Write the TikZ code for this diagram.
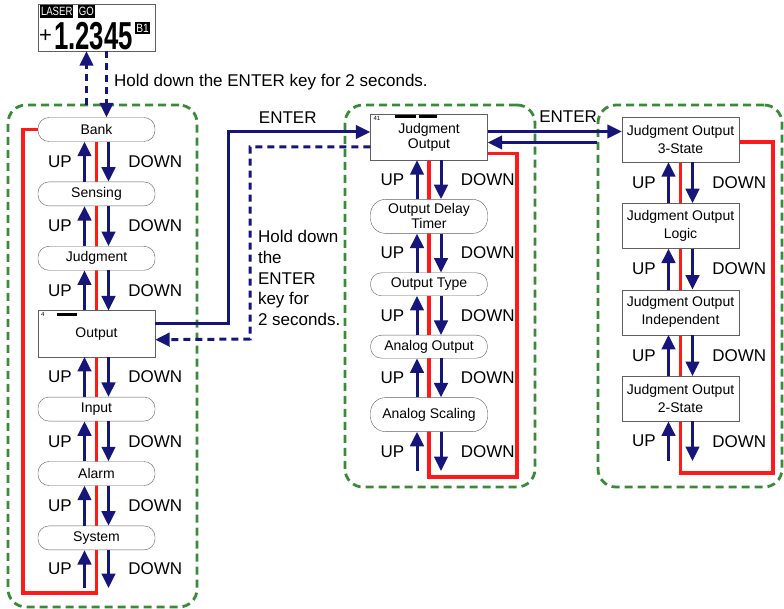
\documentclass[tikz,border=0pt]{standalone}
\usepackage{fontspec}
\setmainfont{Liberation Sans}
\usepackage{graphicx}
\usepackage{tikz}
\usetikzlibrary{arrows.meta,positioning,fit,backgrounds}
\definecolor{navyb}{HTML}{16167A}
\definecolor{redl}{HTML}{FF1A1A}
\definecolor{grpgreen}{HTML}{3A8A3A}
\definecolor{bgray}{HTML}{606060}

\begin{document}
\begin{tikzpicture}[
      x=1pt, y=-1pt,
      node distance = 40pt,
      pill/.style   = {draw=bgray, fill=white, rounded corners=11pt, minimum width=117pt,
                       minimum height=24pt, inner sep=1pt, align=center,
                       font=\fontsize{14}{15}\selectfont},
      tallpill/.style = {pill, rounded corners=15pt, minimum height=34pt},
      scr/.style    = {pill, rounded corners=0pt, minimum height=46pt},
      subbox/.style = {scr, minimum height=45pt, font=\fontsize{14}{18}\selectfont},
      arr/.style    = {-{Triangle[length=14.5pt,width=13.5pt]}, line width=3pt, navyb},
      darr/.style   = {arr, dash pattern=on 7pt off 5pt},
      redline/.style = {draw=redl, line width=3.2pt},
      grp/.style    = {draw=grpgreen, line width=2.8pt, dash pattern=on 8pt off 5pt,
                       rounded corners=18pt, inner sep=0pt},
      key/.style    = {text=black, font=\fontsize{17}{20.75}\selectfont},
      ulbl/.style   = {key, left=8pt},
      dlbl/.style   = {key, right=15pt},
      tag/.style    = {fill=black, text=white, inner xsep=1pt, inner ysep=2pt,
                       font=\fontsize{12}{12}\selectfont},
      tiny/.style   = {anchor=north west, inner sep=1pt, font=\fontsize{6}{6}\selectfont},
      bar/.style    = {line width=3pt},
    ]

    \useasboundingbox (0,0) rectangle (784,609);

    % ---- display ----
    \node[draw=bgray, minimum width=117pt, minimum height=47pt] (disp) at (96.5,27.5) {};
    \node[tag, anchor=north west] (laser) at ([shift={(2pt,-1.5pt)}]disp.north west)
          {\scalebox{0.8}[1]{LASER}};
    \node[tag, right=4pt of laser] (go) {\scalebox{0.8}[1]{GO}};
    \node[anchor=west, inner sep=0pt, font=\fontsize{22}{22}\selectfont] (sign) at (39,36) {+};
    \node[anchor=base west, inner sep=0pt, font=\bfseries\fontsize{39}{39}\selectfont] (val)
          at (54,49.5) {\scalebox{0.66}[1]{1.2345}};
    \node[tag, anchor=north west, inner ysep=1.5pt] (bnum) at ([xshift=2pt]val.north east)
          {\scalebox{0.85}[1]{B1}};

    \node[key, anchor=west] (holdtop) at (110.5,82) {Hold down the ENTER key for 2 seconds.};

    % ---- left column ----
    \node[pill] (bank) at (96.5,129.5) {Bank};
    \node[pill, below=of bank]  (sens)  {Sensing};
    \node[pill, below=of sens]  (judg)  {Judgment};
    \node[scr,  below=of judg]  (out)   {Output};
    \node[pill, below=of out]   (inp)   {Input};
    \node[pill, below=of inp]   (alarm) {Alarm};
    \node[pill, below=of alarm] (sys)   {System};
    \coordinate (lend) at (96.5,588);

    \node[tiny] (outno) at ([shift={(2pt,-1pt)}]out.north west) {4};
    \draw[bar] ([shift={(19pt,-4pt)}]out.north west) -- ++(20pt,0);

    \draw[arr] ([xshift=-12pt]sens.north)  -- node[ulbl] {UP}   ([xshift=-12pt]bank.south);
    \draw[arr] ([xshift=12pt]bank.south)   -- node[dlbl] {DOWN} ([xshift=12pt]sens.north);
    \draw[arr] ([xshift=-12pt]judg.north)  -- node[ulbl] {UP}   ([xshift=-12pt]sens.south);
    \draw[arr] ([xshift=12pt]sens.south)   -- node[dlbl] {DOWN} ([xshift=12pt]judg.north);
    \draw[arr] ([xshift=-12pt]out.north)   -- node[ulbl] {UP}   ([xshift=-12pt]judg.south);
    \draw[arr] ([xshift=12pt]judg.south)   -- node[dlbl] {DOWN} ([xshift=12pt]out.north);
    \draw[arr] ([xshift=-12pt]inp.north)   -- node[ulbl] {UP}   ([xshift=-12pt]out.south);
    \draw[arr] ([xshift=12pt]out.south)    -- node[dlbl] {DOWN} ([xshift=12pt]inp.north);
    \draw[arr] ([xshift=-12pt]alarm.north) -- node[ulbl] {UP}   ([xshift=-12pt]inp.south);
    \draw[arr] ([xshift=12pt]inp.south)    -- node[dlbl] {DOWN} ([xshift=12pt]alarm.north);
    \draw[arr] ([xshift=-12pt]sys.north)   -- node[ulbl] {UP}   ([xshift=-12pt]alarm.south);
    \draw[arr] ([xshift=12pt]alarm.south)  -- node[dlbl] {DOWN} ([xshift=12pt]sys.north);
    \draw[arr] ([xshift=-12pt]lend)        -- node[ulbl] {UP}   ([xshift=-12pt]sys.south);
    \draw[arr] ([xshift=12pt]sys.south)    -- node[dlbl] {DOWN} ([xshift=12pt]lend);

    % ---- middle column ----
    \node[scr] (jo) at (429,137) {Judgment\\Output};
    \node[tallpill, below=39pt of jo]   (odt)   {Output Delay\\Timer};
    \node[pill, minimum height=23pt, below=39pt of odt]   (otype) {Output Type};
    \node[pill, minimum height=23pt, below=39pt of otype] (aout)  {Analog Output};
    \node[tallpill, below=39pt of aout] (ascal) {Analog Scaling};
    \coordinate (mend) at (429,471);

    \node[tiny] (jono) at ([shift={(2pt,-1pt)}]jo.north west) {41};
    \draw[bar] ([shift={(25pt,-3pt)}]jo.north west) -- ++(21pt,0);
    \draw[bar] ([shift={(49pt,-3pt)}]jo.north west) -- ++(18pt,0);

    \draw[arr] ([xshift=-12pt]odt.north)   -- node[ulbl] {UP}   ([xshift=-12pt]jo.south);
    \draw[arr] ([xshift=12pt]jo.south)     -- node[dlbl] {DOWN} ([xshift=12pt]odt.north);
    \draw[arr] ([xshift=-12pt]otype.north) -- node[ulbl] {UP}   ([xshift=-12pt]odt.south);
    \draw[arr] ([xshift=12pt]odt.south)    -- node[dlbl] {DOWN} ([xshift=12pt]otype.north);
    \draw[arr] ([xshift=-12pt]aout.north)  -- node[ulbl] {UP}   ([xshift=-12pt]otype.south);
    \draw[arr] ([xshift=12pt]otype.south)  -- node[dlbl] {DOWN} ([xshift=12pt]aout.north);
    \draw[arr] ([xshift=-12pt]ascal.north) -- node[ulbl] {UP}   ([xshift=-12pt]aout.south);
    \draw[arr] ([xshift=12pt]aout.south)   -- node[dlbl] {DOWN} ([xshift=12pt]ascal.north);
    \draw[arr] ([xshift=-12pt]mend)        -- node[ulbl] {UP}   ([xshift=-12pt]ascal.south);
    \draw[arr] ([xshift=12pt]ascal.south)  -- node[dlbl] {DOWN} ([xshift=12pt]mend);

    % ---- right column ----
    \node[subbox] (s3) at (680.5,139.5) {Judgment Output\\3-State};
    \node[subbox, below=41pt of s3]    (logic) {Judgment Output\\Logic};
    \node[subbox, below=41pt of logic] (indep) {Judgment Output\\Independent};
    \node[subbox, below=41pt of indep] (s2)    {Judgment Output\\2-State};
    \coordinate (rend) at (680.5,461);

    \draw[arr] ([xshift=-12pt]logic.north) -- node[ulbl] {UP}   ([xshift=-12pt]s3.south);
    \draw[arr] ([xshift=12pt]s3.south)     -- node[dlbl] {DOWN} ([xshift=12pt]logic.north);
    \draw[arr] ([xshift=-12pt]indep.north) -- node[ulbl] {UP}   ([xshift=-12pt]logic.south);
    \draw[arr] ([xshift=12pt]logic.south)  -- node[dlbl] {DOWN} ([xshift=12pt]indep.north);
    \draw[arr] ([xshift=-12pt]s2.north)    -- node[ulbl] {UP}   ([xshift=-12pt]indep.south);
    \draw[arr] ([xshift=12pt]indep.south)  -- node[dlbl] {DOWN} ([xshift=12pt]s2.north);
    \draw[arr] ([xshift=-12pt]rend)        -- node[ulbl] {UP}   ([xshift=-12pt]s2.south);
    \draw[arr] ([xshift=12pt]s2.south)     -- node[dlbl] {DOWN} ([xshift=12pt]rend);

    % groups and wrap-around lines
    \begin{scope}[on background layer]
      \node[grp, fit={(8,105) (197,607)}]   (gleft)  {};
      \node[grp, fit={(345,105) (535,487)}] (gmid)   {};
      \node[grp, fit={(598,105) (782,487)}] (gright) {};
      \coordinate (lred) at (23,593);
      \coordinate (mred) at (517,477);
      \coordinate (rred) at (773,473);
      \draw[redline] (bank.west) -| (lred) -| (bank.south);
      \draw[redline] ([yshift=7pt]jo.south east) -| (mred) -| (jo.south);
      \draw[redline] ([yshift=-2.5pt]s3.east) -| (rred) -| (s3.south);
    \end{scope}

    % display <-> Bank
    \coordinate (dispup) at (86.5,105);
    \draw[darr] (dispup) -- (dispup |- disp.south);
    \draw[darr] ([xshift=10pt]disp.south) -- ([xshift=10pt]bank.north);

    % Output <-> Judgment Output
    \coordinate (ebend) at (228,132);
    \coordinate (hbend) at (250,339);
    \draw[arr] ([yshift=10pt]out.east) -| (ebend)
          -- node[key, pos=0.42, above=4pt] {ENTER} ([yshift=5pt]jo.west);
    \draw[darr] ([yshift=-10pt]jo.west) -| (hbend) -- ([yshift=-6pt]out.east);
    \node[key, anchor=west, align=left] (holdmid) at (254.5,278)
          {Hold down\\the\\ENTER\\key for\\2 seconds.};

    % Judgment Output <-> sub-states
    \draw[arr] ([yshift=8pt]s3.west -| jo.east)
          -- node[key, pos=0.6, above=4pt] {ENTER} ([yshift=8pt]s3.west);
    \draw[arr] ([yshift=-3pt]s3.west -| gright.west) -- ([yshift=-3pt]s3.west -| jo.east);
  \end{tikzpicture}
\end{document}
